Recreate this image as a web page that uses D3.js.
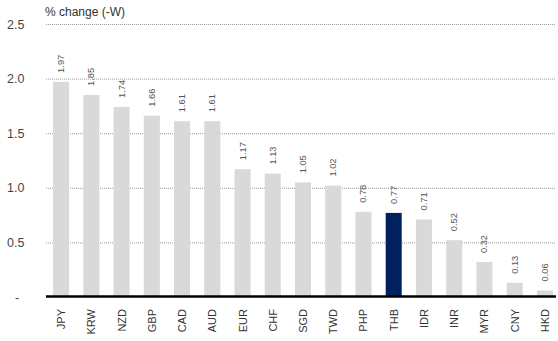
<!DOCTYPE html>
<html>
<head>
<meta charset="utf-8">
<script src="https://cdn.jsdelivr.net/npm/d3@7"></script>
<style>
  html, body { margin: 0; padding: 0; background: #fff; }
  svg { display: block; font-family: "Liberation Sans", Arial, sans-serif; }
</style>
</head>
<body>
<svg id="chart" width="558" height="341"></svg>
<script>
// Currency moves over the week, % change
const currencies = ["JPY","KRW","NZD","GBP","CAD","AUD","EUR","CHF","SGD","TWD","PHP","THB","IDR","INR","MYR","CNY","HKD"];
const changes = [1.97,1.85,1.74,1.66,1.61,1.61,1.17,1.13,1.05,1.02,0.78,0.77,0.71,0.52,0.32,0.13,0.06];
const yTicks = [0, 0.5, 1.0, 1.5, 2.0, 2.5];
const highlight = "THB";

const svg = d3.select("#chart");
const plotLeft = 46, plotRight = 560, plotTop = 24, zeroY = 297;

const x = d3.scaleBand().domain(currencies).range([plotLeft, plotRight]).paddingInner(0.47).paddingOuter(0.235);
const y = d3.scaleLinear().domain([0, 2.5]).range([zeroY, plotTop]);

// gridlines
svg.append("g").selectAll("line").data(yTicks.filter(d => d > 0)).join("line")
  .attr("x1", plotLeft).attr("x2", 556)
  .attr("y1", d => y(d) + 0.5).attr("y2", d => y(d) + 0.5)
  .attr("stroke", "#9a9a9a").attr("stroke-width", 1).attr("stroke-dasharray", "1,1");

// y tick labels
svg.append("g").selectAll("text").data(yTicks).join("text")
  .attr("x", d => d === 0 ? 15 : 7)
  .attr("y", d => y(d) + 4.5)
  .attr("font-size", 12.5).attr("fill", "#444")
  .text(d => d === 0 ? "-" : d3.format(".1f")(d));

// bars
svg.append("g").selectAll("rect").data(currencies).join("rect")
  .attr("x", d => x(d))
  .attr("width", x.bandwidth())
  .attr("y", (d, i) => y(changes[i]))
  .attr("height", (d, i) => zeroY - y(changes[i]))
  .attr("fill", d => d === highlight ? "#002060" : "#d9d9d9");

// value labels
svg.append("g").selectAll("text").data(currencies).join("text")
  .attr("transform", (d, i) => `translate(${x(d) + x.bandwidth() / 2 + 3},${y(changes[i]) - 9}) rotate(-90)`)
  .attr("font-size", 9.3).attr("fill", "#555")
  .text((d, i) => d3.format(".2f")(changes[i]));

// zero axis
svg.append("line")
  .attr("x1", plotLeft).attr("x2", 556)
  .attr("y1", zeroY - 0.5).attr("y2", zeroY - 0.5)
  .attr("stroke", "#000").attr("stroke-width", 2.5);

// category labels
svg.append("g").selectAll("text").data(currencies).join("text")
  .attr("transform", d => `translate(${x(d) + x.bandwidth() / 2 + 4},309) rotate(-90)`)
  .attr("text-anchor", "end")
  .attr("font-size", 11).attr("fill", "#333")
  .text(d => d);

// title
svg.append("text")
  .attr("x", 45).attr("y", 15.5)
  .attr("font-size", 12).attr("fill", "#333")
  .text("% change (-W)");
</script>
</body>
</html>
